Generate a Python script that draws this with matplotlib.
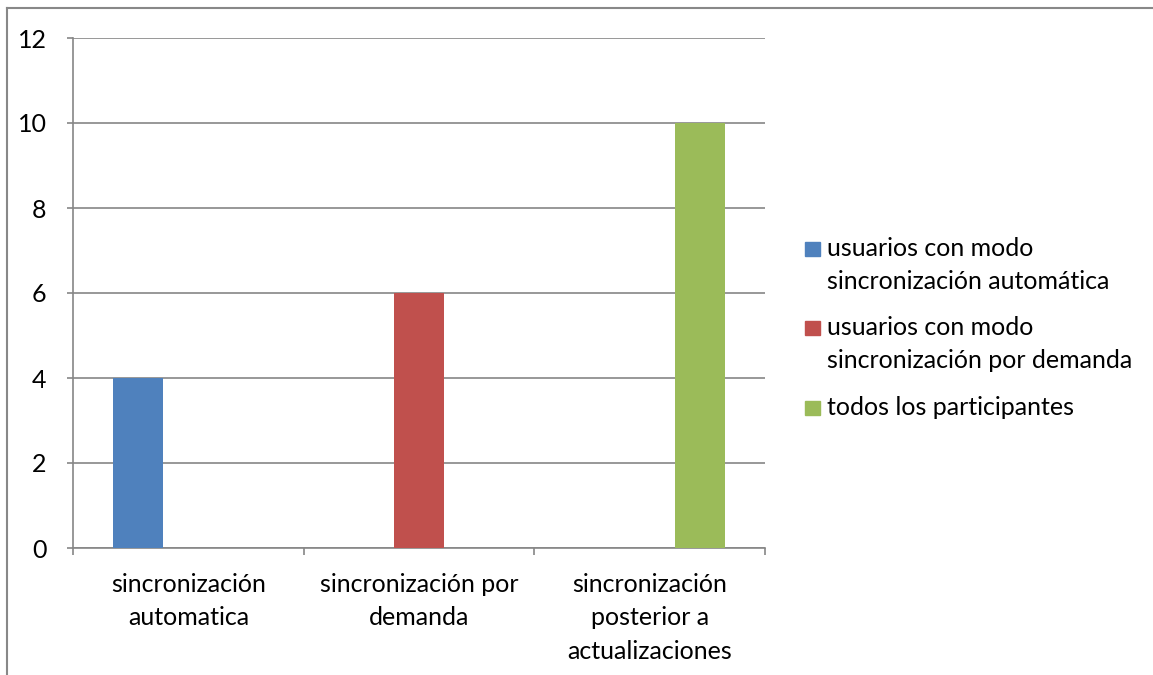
import matplotlib
matplotlib.use("Agg")
import matplotlib.pyplot as plt
from matplotlib.lines import Line2D
from matplotlib.patches import Rectangle
import numpy as np

# data
categories = ["sincronización\nautomatica",
              "sincronización por\ndemanda",
              "sincronización\nposterior a\nactualizaciones"]
series_names = ["usuarios con modo\nsincronización automática",
                "usuarios con modo\nsincronización por demanda",
                "todos los participantes"]
auto_vals = [4, 0, 0]
demanda_vals = [0, 6, 0]
todos_vals = [0, 0, 10]
colors = ["#4F81BD", "#C0504D", "#9BBB59"]

plt.rcParams['font.family'] = ['Lato', 'DejaVu Sans']
FS = 18
W, H = 1153, 675

fig = plt.figure(figsize=(W / 100, H / 100), dpi=100)
ax = fig.add_axes([73 / W, 1 - 548 / H, (765 - 73) / W, (548 - 38) / H])

x = np.arange(len(categories))
bw = 0.217
for i, vals in enumerate([auto_vals, demanda_vals, todos_vals]):
    ax.bar(x + (i - 1) * bw, vals, width=bw, color=colors[i], zorder=3)

ax.set_xlim(-0.5, len(categories) - 0.5)
ax.set_ylim(0, 12)
ax.set_yticks(range(0, 13, 2))
ax.yaxis.grid(True, color="#868686", linewidth=1.2)
ax.set_axisbelow(True)

ax.set_xticks(x)
ax.set_xticklabels(categories, fontsize=FS, linespacing=1.55)
ax.set_xticks(np.arange(-0.5, len(categories), 1), minor=True)
ax.tick_params(axis='x', which='major', length=0, pad=18)
ax.tick_params(axis='x', which='minor', length=5, width=1.2, color="#868686")
ax.tick_params(axis='y', length=4, width=1.2, color="#868686", pad=15, labelsize=FS)

for s in ["top", "right"]:
    ax.spines[s].set_visible(False)
for s in ["left", "bottom"]:
    ax.spines[s].set_color("#868686")
    ax.spines[s].set_linewidth(1.2)

# legend drawn by hand, square next to the first line of each entry
first_baselines = [256, 335, 415]
for i, name in enumerate(series_names):
    yb = first_baselines[i]
    fig.add_artist(Rectangle((805 / W, 1 - yb / H), 15 / W, 14 / H,
                             transform=fig.transFigure, color=colors[i]))
    for j, line in enumerate(name.split("\n")):
        fig.text(827 / W, 1 - (yb + j * 33) / H, line, fontsize=FS,
                 va='baseline', ha='left')

# outer border (top and left visible)
fig.add_artist(Line2D([7 / W, 1], [1 - 8 / H, 1 - 8 / H], color="#888888", linewidth=1.5))
fig.add_artist(Line2D([7 / W, 7 / W], [0, 1 - 8 / H], color="#888888", linewidth=1.5))

fig.savefig("out.png", dpi=100)
